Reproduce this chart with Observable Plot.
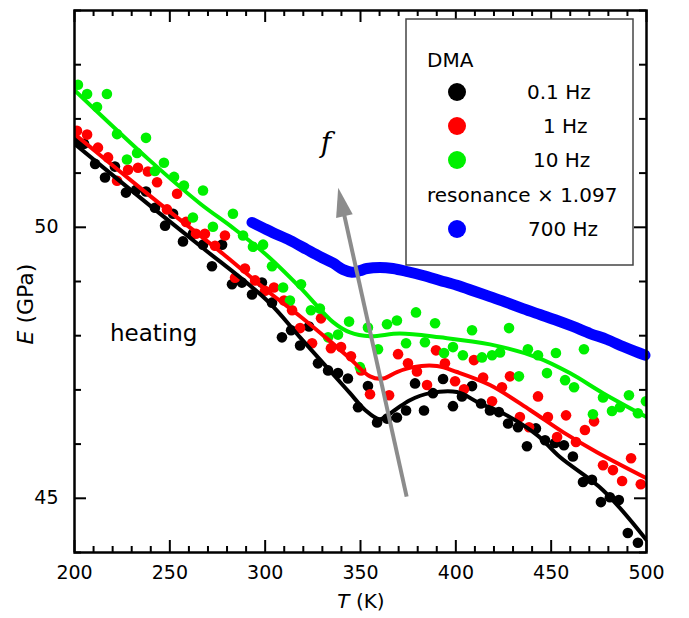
<!DOCTYPE html>
<html><head><meta charset="utf-8">
<script src="https://cdn.jsdelivr.net/npm/d3@7"></script>
<script src="https://cdn.jsdelivr.net/npm/@observablehq/plot@0.6"></script>
<style>
body{margin:0;background:#fff;}
#chart{width:689px;height:618px;}
</style></head><body><div id="chart"></div>
<script>
// ---- tick values ----
const xMajor = [200, 250, 300, 350, 400, 450, 500];
const yMajor = [45, 50];
const xMinorStep = 10, yMinorStep = 1;

// ---- DMA 0.1 Hz (black) ----
const blackT = [200.8,205.0,210.8,216.0,221.2,227.0,232.3,237.5,242.2,247.5,251.7,256.9,262.1,267.4,272.1,277.4,282.6,287.8,293.1,298.3,303.6,308.8,313.6,318.3,323.0,327.7,333.0,338.2,343.4,348.7,353.9,358.7,363.9,369.1,373.9,378.6,383.3,388.0,393.3,398.5,403.2,408.5,413.2,417.9,422.6,427.4,432.6,437.3,442.0,446.8,452.0,456.7,461.4,466.7,471.4,476.1,480.8,485.5,490.2,495.5];
const blackE = [51.58,51.54,51.17,50.92,51.12,50.64,50.69,50.66,50.36,50.03,50.25,49.74,49.88,49.68,49.28,49.68,48.95,48.98,48.76,48.98,48.61,47.97,48.10,47.82,48.17,47.49,47.36,47.31,47.21,46.68,47.07,46.40,46.47,46.49,46.62,47.12,46.62,46.94,47.20,46.70,46.88,47.07,46.75,46.62,46.59,46.38,46.31,45.96,46.29,46.07,46.02,45.98,45.77,45.30,45.34,44.93,45.02,44.97,44.36,44.18];
const blackFitT = [200,239.6,265.8,301,318.3,335.6,344.5,352.4,360.2,368.1,375.9,386.4,400.6,412.7,424.7,442.5,454.6,477.2,500];
const blackFitE = [51.54,50.40,49.66,48.65,47.97,47.29,46.94,46.63,46.46,46.63,46.81,46.94,46.96,46.75,46.57,46.17,45.76,45.15,44.23];

// ---- DMA 1 Hz (red) ----
const redT = [201.3,206.6,212.3,217.6,222.3,228.1,233.3,238.5,243.3,248.5,253.8,258.5,263.7,268.4,273.7,278.9,284.2,289.4,294.7,299.9,304.6,309.9,314.1,318.3,324.6,329.3,334.5,339.8,345.0,350.3,355.0,365.0,369.7,374.9,379.6,384.9,389.6,394.3,399.6,404.3,409.5,414.3,419.0,424.2,428.4,433.6,438.4,443.1,448.3,453.1,457.8,463.0,467.7,472.5,477.2,482.4,487.2,491.9,497.0];
const redE = [51.78,51.71,51.47,51.29,50.86,51.06,51.10,51.03,50.83,50.33,50.62,50.10,49.88,49.88,49.66,49.85,49.07,49.24,49.02,48.83,48.89,48.65,48.47,48.14,47.86,48.32,47.77,47.79,47.62,47.36,46.92,46.90,47.66,47.49,47.34,47.09,47.73,47.49,47.16,47.01,47.55,47.23,46.79,47.05,47.25,46.50,46.31,46.88,46.50,46.13,46.53,46.04,46.26,46.42,45.61,45.52,45.32,45.74,45.26];
const redFitT = [200,239.6,278.9,301,318.3,334,344.5,355,361.8,369.1,377.5,390.1,400.6,417.9,438.9,456.2,474,500];
const redFitE = [51.72,50.58,49.48,48.83,48.36,47.90,47.58,47.25,47.21,47.33,47.42,47.44,47.33,47.09,46.63,46.22,45.85,45.37];

// ---- DMA 10 Hz (green) ----
const greenT = [201.8,206.6,211.8,217.0,222.3,227.5,232.8,237.5,242.2,246.9,252.2,257.4,262.1,267.4,272.6,283.1,288.4,293.6,298.9,303.6,309.4,313.0,318.8,324.0,328.7,333.0,338.2,344.0,349.7,353.9,359.2,363.9,369.1,373.9,379.1,383.8,389.1,393.8,398.5,403.7,408.5,413.7,419.0,423.2,427.9,433.1,437.8,443.1,447.8,452.5,457.3,462.0,467.2,471.9,477.2,481.9,486.1,490.8,495.5,499.7];
const greenE = [52.63,52.46,52.22,52.46,51.72,51.25,51.37,51.65,51.04,51.19,50.93,50.77,50.18,50.68,50.01,50.25,49.85,49.64,49.68,49.28,48.89,48.65,48.95,48.47,48.50,47.97,48.02,48.26,47.42,48.15,47.75,48.21,48.28,47.86,48.43,47.88,48.23,47.68,47.79,47.64,48.10,47.60,47.64,47.69,48.14,47.25,47.75,47.64,47.31,47.68,47.18,47.05,47.75,46.55,46.86,46.61,46.68,46.90,46.57,46.79];
const greenFitT = [200,239.6,265.8,283.1,301,318.3,335.6,344.5,355,370.7,391.7,417.9,442.5,459.8,477.2,500];
const greenFitE = [52.53,51.23,50.44,49.99,49.48,48.89,48.25,48.06,47.99,48.04,47.97,47.84,47.60,47.31,46.94,46.50];

// ---- resonance x 1.097, 700 Hz (blue) ----
const blueT = [293.1,298.9,304.1,313.0,321.9,328.8,335.6,340.8,345.5,349.7,353.4,360.2,367.0,374.9,382.8,391.7,400.6,409.0,417.9,426.8,435.2,444.1,453.1,461.4,470.4,479.3,487.7,494.0,499.2];
const blueE = [50.09,49.99,49.90,49.76,49.59,49.46,49.34,49.22,49.17,49.20,49.24,49.26,49.24,49.18,49.11,49.02,48.93,48.83,48.72,48.61,48.50,48.39,48.28,48.17,48.04,47.93,47.80,47.71,47.64];

// ---- annotations ----
const arrowFrom = {T: 374.2, E: 45.03};
const arrowTo = {T: 338.3, E: 50.73};
const legendTitle = "DMA";
const legendLabels = ["0.1 Hz", "1 Hz", "10 Hz", "700 Hz"];
const legendSubtitle = "resonance \u00d7 1.097";
const colors = {black: "#000000", red: "#ff0000", green: "#00f000", blue: "#0000ff", arrow: "#8c8c8c"};

const zip = (T, E) => T.map((t, i) => ({T: t, E: E[i]}));
const blackDots = zip(blackT, blackE), redDots = zip(redT, redE), greenDots = zip(greenT, greenE);
const blackFit = zip(blackFitT, blackFitE), redFit = zip(redFitT, redFitE), greenFit = zip(greenFitT, greenFitE);
const blue = zip(blueT, blueE);

const W = 689, H = 618, mL = 74, mT = 10, mR = 43, mB = 66;
const innerW = W - mL - mR, innerH = H - mT - mB;
const xMinor = d3.range(200, 500 + 1e-9, xMinorStep).filter(v => !xMajor.includes(v));
const yMinor = d3.range(44, 54 + 1e-9, yMinorStep).filter(v => !yMajor.includes(v));

const shaftEnd = {T: arrowFrom.T + 0.93 * (arrowTo.T - arrowFrom.T), E: arrowFrom.E + 0.93 * (arrowTo.E - arrowFrom.E)};
const headSymbol = {draw(ctx) { ctx.moveTo(0, 0); ctx.lineTo(8.5, 29); ctx.lineTo(-8.5, 29); ctx.closePath(); }};

const dotR = 5.3;
const plot = Plot.plot({
  width: W, height: H,
  marginLeft: mL, marginTop: mT, marginRight: mR, marginBottom: mB,
  style: {fontFamily: "DejaVu Sans", fontSize: "19px", background: "white", color: "black"},
  x: {domain: [200, 500], ticks: xMajor, tickSize: 0, tickPadding: 13, label: null},
  y: {domain: [44, 54], ticks: yMajor, tickSize: 0, tickPadding: 16, label: null},
  marks: [
    Plot.dot(blackDots, {x: "T", y: "E", r: dotR, fill: colors.black, clip: true}),
    Plot.dot(redDots, {x: "T", y: "E", r: dotR, fill: colors.red, clip: true}),
    Plot.dot(greenDots, {x: "T", y: "E", r: dotR, fill: colors.green, clip: true}),
    Plot.line(blackFit, {x: "T", y: "E", stroke: colors.black, strokeWidth: 4, curve: "catmull-rom", clip: true}),
    Plot.line(redFit, {x: "T", y: "E", stroke: colors.red, strokeWidth: 4, curve: "catmull-rom", clip: true}),
    Plot.line(greenFit, {x: "T", y: "E", stroke: colors.green, strokeWidth: 4, curve: "catmull-rom", clip: true}),
    Plot.line(blue, {x: "T", y: "E", stroke: colors.blue, strokeWidth: 11, strokeLinecap: "round", curve: "catmull-rom"}),
    Plot.link([{a: arrowFrom, b: shaftEnd}], {x1: d => d.a.T, y1: d => d.a.E, x2: d => d.b.T, y2: d => d.b.E, stroke: colors.arrow, strokeWidth: 4}),
    Plot.dot([arrowTo], {x: "T", y: "E", symbol: headSymbol, rotate: -12.4, fill: colors.arrow, stroke: null, r: 10}),
    Plot.text(["heating"], {x: 218.6, y: 48.03, text: d => d, textAnchor: "start", fontSize: 23}),
    Plot.text(["f"], {x: 331.9, y: 51.56, text: d => d, fontSize: 28, fontStyle: "italic", fontFamily: "DejaVu Serif"}),
    // inward ticks
    Plot.tickX(xMajor, {x: d => d, insetTop: innerH - 12, strokeWidth: 2}),
    Plot.tickX(xMinor, {x: d => d, insetTop: innerH - 6, strokeWidth: 2}),
    Plot.tickX(xMajor, {x: d => d, insetBottom: innerH - 12, strokeWidth: 2}),
    Plot.tickX(xMinor, {x: d => d, insetBottom: innerH - 6, strokeWidth: 2}),
    Plot.tickY(yMajor, {y: d => d, insetRight: innerW - 12, strokeWidth: 2}),
    Plot.tickY(yMinor, {y: d => d, insetRight: innerW - 7, strokeWidth: 2}),
    Plot.tickY(yMajor, {y: d => d, insetLeft: innerW - 12, strokeWidth: 2}),
    Plot.tickY(yMinor, {y: d => d, insetLeft: innerW - 7, strokeWidth: 2}),
    Plot.frame({stroke: "black", strokeWidth: 2.5})
  ]
});
document.getElementById("chart").appendChild(plot);

// ---- axis titles and legend ----
const svg = d3.select(plot);
const ylab = svg.append("text").attr("transform", "translate(33,304) rotate(-90)")
  .attr("text-anchor", "middle").attr("font-size", 22).attr("fill", "black");
ylab.append("tspan").attr("font-style", "italic").text("E");
ylab.append("tspan").text(" (GPa)");
const xlab = svg.append("text").attr("x", 361).attr("y", 608)
  .attr("text-anchor", "middle").attr("font-size", 20).attr("fill", "black");
xlab.append("tspan").attr("font-style", "italic").text("T");
xlab.append("tspan").text(" (K)");

const lg = svg.append("g").attr("font-size", 20).attr("fill", "black").attr("text-anchor", "start");
lg.append("rect").attr("x", 406).attr("y", 19).attr("width", 227).attr("height", 246)
  .attr("fill", "white").attr("stroke", "#444").attr("stroke-width", 1.5);
lg.append("text").attr("x", 427).attr("y", 60).attr("dy", "0.36em").attr("text-anchor", "start").text(legendTitle);
const rows = [
  {label: legendLabels[0], color: colors.black, y: 92, lx: 527},
  {label: legendLabels[1], color: colors.red, y: 126, lx: 543},
  {label: legendLabels[2], color: colors.green, y: 160, lx: 533},
  {label: legendLabels[3], color: colors.blue, y: 229, lx: 528}
];
for (const r of rows) {
  lg.append("circle").attr("cx", 457).attr("cy", r.y).attr("r", 9).attr("fill", r.color);
  lg.append("text").attr("x", r.lx).attr("y", r.y).attr("dy", "0.36em").attr("text-anchor", "start").text(r.label);
}
lg.append("text").attr("x", 427).attr("y", 195).attr("dy", "0.36em").attr("text-anchor", "start").text(legendSubtitle);
</script></body></html>
